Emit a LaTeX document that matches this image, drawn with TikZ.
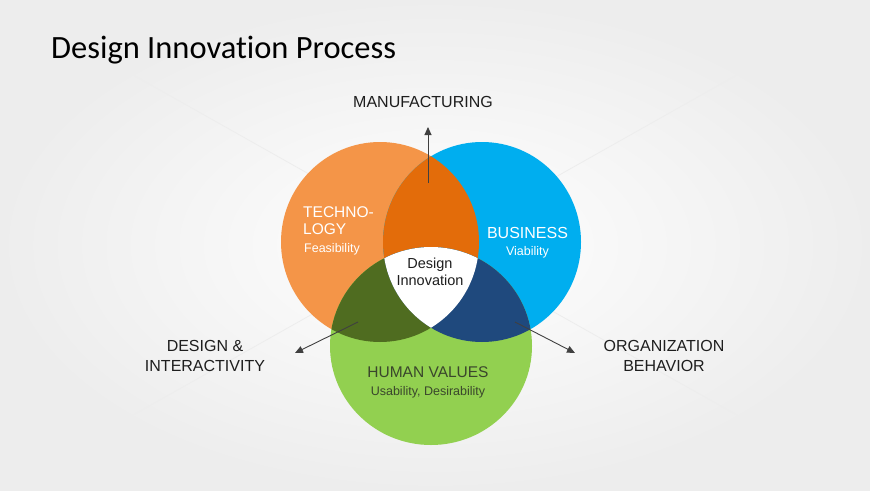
\documentclass[tikz,border=0pt]{standalone}
\usepackage{fontspec}
\setmainfont{Liberation Sans}
\newfontfamily\titlefont[Ligatures={NoCommon}]{Carlito}
\usetikzlibrary{arrows.meta}
\definecolor{cOrange}{RGB}{244,149,72}
\definecolor{cOrangeDk}{RGB}{227,108,10}
\definecolor{cBlue}{RGB}{0,174,239}
\definecolor{cBlueDk}{RGB}{31,73,125}
\definecolor{cGreen}{RGB}{146,208,80}
\definecolor{cGreenDk}{RGB}{79,108,32}
\definecolor{cText}{RGB}{30,30,30}
\definecolor{cHuman}{RGB}{58,70,44}
\definecolor{cArrow}{RGB}{64,64,64}
\tikzset{
  outlabel/.style={font=\fontsize{16}{20}\selectfont, text=cText, align=center, inner sep=0pt},
  bigwhite/.style={font=\fontsize{15.5}{17}\selectfont, text=white, inner sep=0pt},
  smallwhite/.style={font=\fontsize{12.5}{14}\selectfont, text=white, inner sep=0pt},
  conn/.style={cArrow, line width=0.9pt, -{Triangle[length=8pt,width=7pt]}},
}
\begin{document}
\begin{tikzpicture}[x=1pt,y=-1pt]
\useasboundingbox (0,0) rectangle (870,490);
% background
\shade[inner color=white, outer color=black!7] (0,0) rectangle (870,490);
\draw[black!7, line width=0.8pt] (0,0) -- (870,490);
\draw[black!7, line width=0.8pt] (870,0) -- (0,490);
% title
\node[anchor=base west, inner sep=0pt, font=\titlefont\fontsize{32.5}{36}\selectfont, text=black] (title) at (51,58) {Design Innovation Process};
% circles
\def\orangepath{(380,242) ellipse [x radius=99, y radius=100]}
\def\bluepath{(482,242) ellipse [x radius=99, y radius=100]}
\def\greenpath{(431,346) ellipse [x radius=101, y radius=99]}
\fill[cOrange] \orangepath;
\fill[cBlue] \bluepath;
\fill[cGreen] \greenpath;
\begin{scope}
  \clip \orangepath;
  \fill[cOrangeDk] \bluepath;
\end{scope}
\begin{scope}
  \clip \orangepath;
  \fill[cGreenDk] \greenpath;
\end{scope}
\begin{scope}
  \clip \bluepath;
  \fill[cBlueDk] \greenpath;
\end{scope}
\begin{scope}
  \clip \orangepath;
  \clip \bluepath;
  \fill[white] \greenpath;
\end{scope}
% circle labels
\node[bigwhite, anchor=west] (tech1) at (303,212.5) {TECHNO-};
\node[bigwhite, anchor=west] (tech2) at (303,229) {LOGY};
\node[smallwhite, anchor=west] (feas) at (304,249) {Feasibility};
\node[bigwhite, font=\fontsize{16}{18}\selectfont] (bus) at (527.5,232.5) {BUSINESS};
\node[smallwhite] (via) at (527.5,252) {Viability};
\node[font=\fontsize{14.5}{17.5}\selectfont, text=cText, align=center, inner sep=0pt] (di) at (430,272) {Design\\Innovation};
\node[font=\fontsize{15.5}{18}\selectfont, text=cHuman, inner sep=0pt] (hv) at (428,372) {HUMAN VALUES};
\node[font=\fontsize{12.5}{14}\selectfont, text=cHuman, inner sep=0pt] (ud) at (428,392) {Usability, Desirability};
% outer labels
\node[outlabel] (manu) at (423,102) {MANUFACTURING};
\node[outlabel] (dint) at (205,356) {DESIGN \&\\INTERACTIVITY};
\node[outlabel] (org) at (664,356) {ORGANIZATION\\BEHAVIOR};
% connectors
\coordinate (m0) at (428,183);
\coordinate (m1) at (428,127);
\coordinate (l0) at (358,322);
\coordinate (l1) at (295,353);
\coordinate (r0) at (515,322);
\coordinate (r1) at (575,353);
\draw[conn] (m0) -- (m1);
\draw[conn] (l0) -- (l1);
\draw[conn] (r0) -- (r1);
\end{tikzpicture}
\end{document}
